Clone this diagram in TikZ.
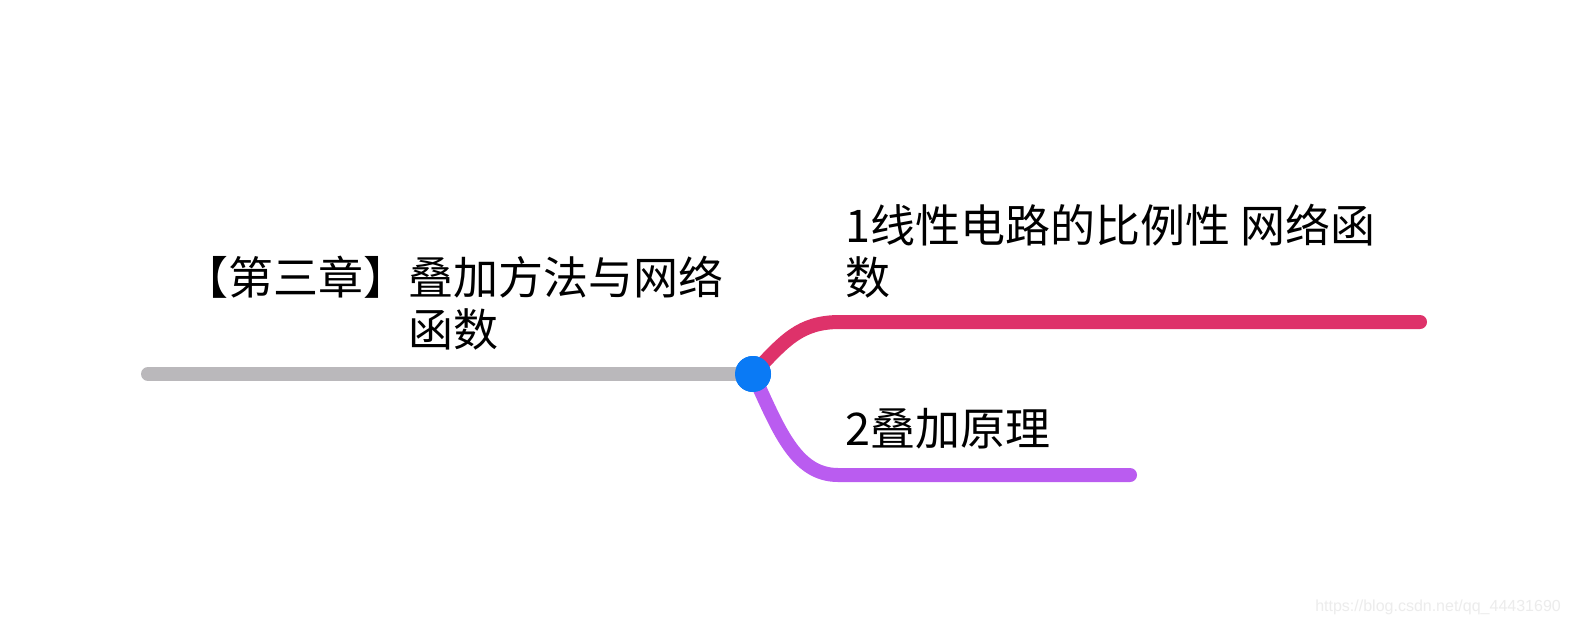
\documentclass[tikz,border=0pt]{standalone}
\usepackage{fontspec}
\newfontfamily\cjk{Noto Sans CJK SC}
\newfontfamily\wmfont{Liberation Sans}
\definecolor{branchgray}{RGB}{186,184,187}
\definecolor{branchred}{RGB}{222,50,106}
\definecolor{branchpurple}{RGB}{186,92,240}
\definecolor{dotblue}{RGB}{10,122,245}
\definecolor{wmgray}{RGB}{236,236,236}
\begin{document}
\begin{tikzpicture}[x=1pt,y=-1pt,
  branch/.style={line width=14pt,line cap=round},
  label/.style={font=\cjk\fontsize{45}{52}\selectfont,inner sep=0pt,text=black}]
\useasboundingbox (0,0) rectangle (1570,627);
\fill[white] (0,0) rectangle (1570,627);
\coordinate (g0) at (148,374);
\coordinate (r1) at (840,322);
\coordinate (r2) at (1420,322);
\coordinate (p1) at (838,475);
\coordinate (p2) at (1130,475);
\node[circle,fill=dotblue,minimum size=36pt,inner sep=0pt] (dot) at (753,374) {};
\draw[branch,branchgray] (g0) -- (dot.center);
\draw[branch,branchred] (dot.center) .. controls (785,340) and (800,322) .. (r1) -- (r2);
\draw[branch,branchpurple] (dot.center) .. controls (778,428) and (795,475) .. (p1) -- (p2);
\node[circle,fill=dotblue,minimum size=36pt,inner sep=0pt] at (dot) {};
\node[label,align=center,anchor=base] (title) at (453,346) {【第三章】叠加方法与网络\\函数};
\node[label,align=left,anchor=base west] (t1) at (845,294) {1线性电路的比例性 网络函\\数};
\node[label,anchor=base west] (t2) at (845,445) {2叠加原理};
\node[font=\wmfont\fontsize{16}{16}\selectfont,text=wmgray,anchor=east,inner sep=0pt] (wm) at (1561,607) {https://blog.csdn.net/qq\_44431690};
\end{tikzpicture}
\end{document}
